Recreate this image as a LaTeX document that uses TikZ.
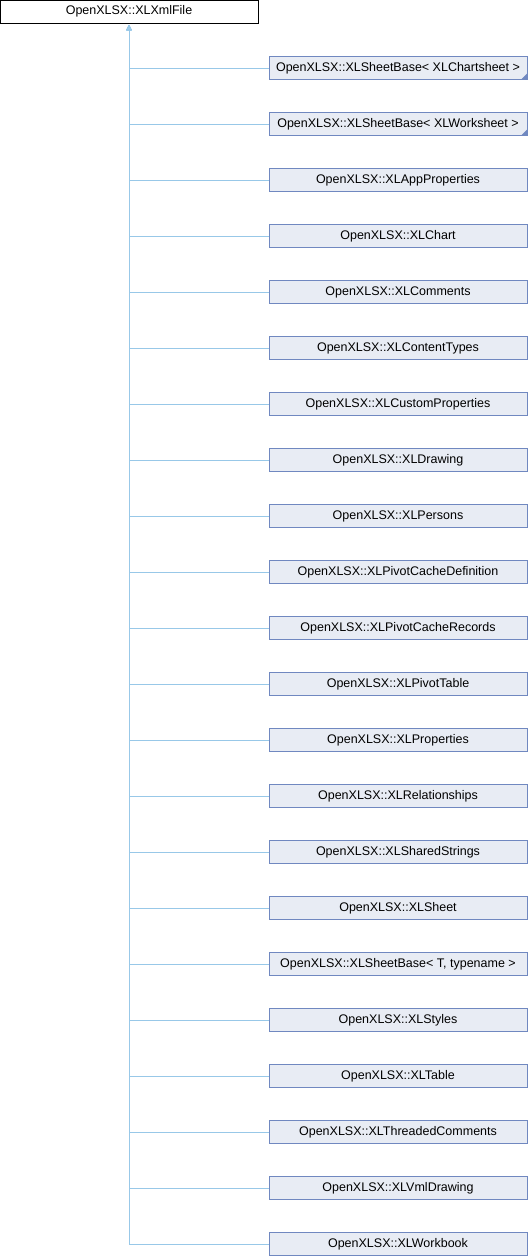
\documentclass[tikz,border=0pt]{standalone}
\usepackage{fontspec}
\setmainfont{Liberation Sans}
\usepackage{xcolor}
\usetikzlibrary{positioning,arrows.meta}

\definecolor{boxfill}{HTML}{E8ECF4}
\definecolor{boxline}{HTML}{7088C0}
\definecolor{edgeblue}{HTML}{98C8E8}

\tikzset{
  cls/.style={draw=boxline, fill=boxfill, line width=0.8pt, outer sep=0pt,
    inner sep=0pt, minimum width=258pt, minimum height=23pt,
    font=\fontsize{12.5}{15}\selectfont},
  basecls/.style={cls, draw=black, fill=white},
  inherit/.style={draw=edgeblue, line width=0.8pt, shorten <=2pt,
    {Triangle[open, length=5pt, width=5pt]}-},
  tmark/.style={fill=boxline, draw=none}
}

\begin{document}
\begin{tikzpicture}[x=1pt, y=1pt]

  \useasboundingbox (0,0) rectangle (528,-1256);

  \node[basecls] (xmlfile) at (129,-11.5) {OpenXLSX::XLXmlFile};

  \node[cls, below right=33.5pt and 11pt of xmlfile] (chartsheet) {OpenXLSX::XLSheetBase< XLChartsheet >};
  \node[cls, below=33pt of chartsheet]   (worksheet)    {OpenXLSX::XLSheetBase< XLWorksheet >};
  \node[cls, below=33pt of worksheet]    (appprops)     {OpenXLSX::XLAppProperties};
  \node[cls, below=33pt of appprops]     (chart)        {OpenXLSX::XLChart};
  \node[cls, below=33pt of chart]        (comments)     {OpenXLSX::XLComments};
  \node[cls, below=33pt of comments]     (contenttypes) {OpenXLSX::XLContentTypes};
  \node[cls, below=33pt of contenttypes] (customprops)  {OpenXLSX::XLCustomProperties};
  \node[cls, below=33pt of customprops]  (drawing)      {OpenXLSX::XLDrawing};
  \node[cls, below=33pt of drawing]      (persons)      {OpenXLSX::XLPersons};
  \node[cls, below=33pt of persons]      (pivotdef)     {OpenXLSX::XLPivotCacheDefinition};
  \node[cls, below=33pt of pivotdef]     (pivotrec)     {OpenXLSX::XLPivotCacheRecords};
  \node[cls, below=33pt of pivotrec]     (pivottable)   {OpenXLSX::XLPivotTable};
  \node[cls, below=33pt of pivottable]   (props)        {OpenXLSX::XLProperties};
  \node[cls, below=33pt of props]        (rels)         {OpenXLSX::XLRelationships};
  \node[cls, below=33pt of rels]         (sharedstr)    {OpenXLSX::XLSharedStrings};
  \node[cls, below=33pt of sharedstr]    (sheet)        {OpenXLSX::XLSheet};
  \node[cls, below=33pt of sheet]        (sheetbase)    {OpenXLSX::XLSheetBase< T, typename >};
  \node[cls, below=33pt of sheetbase]    (styles)       {OpenXLSX::XLStyles};
  \node[cls, below=33pt of styles]       (table)        {OpenXLSX::XLTable};
  \node[cls, below=33pt of table]        (threaded)     {OpenXLSX::XLThreadedComments};
  \node[cls, below=33pt of threaded]     (vmldrawing)   {OpenXLSX::XLVmlDrawing};
  \node[cls, below=33pt of vmldrawing]   (workbook)     {OpenXLSX::XLWorkbook};

  % template instance markers
  \fill[tmark] (chartsheet.south east) -- ++(-6,0) -- ++(6,6) -- cycle;
  \fill[tmark] (worksheet.south east) -- ++(-6,0) -- ++(6,6) -- cycle;

  % inheritance edges
  \draw[inherit] (xmlfile.south) |- (chartsheet.west);
  \draw[inherit] (xmlfile.south) |- (worksheet.west);
  \draw[inherit] (xmlfile.south) |- (appprops.west);
  \draw[inherit] (xmlfile.south) |- (chart.west);
  \draw[inherit] (xmlfile.south) |- (comments.west);
  \draw[inherit] (xmlfile.south) |- (contenttypes.west);
  \draw[inherit] (xmlfile.south) |- (customprops.west);
  \draw[inherit] (xmlfile.south) |- (drawing.west);
  \draw[inherit] (xmlfile.south) |- (persons.west);
  \draw[inherit] (xmlfile.south) |- (pivotdef.west);
  \draw[inherit] (xmlfile.south) |- (pivotrec.west);
  \draw[inherit] (xmlfile.south) |- (pivottable.west);
  \draw[inherit] (xmlfile.south) |- (props.west);
  \draw[inherit] (xmlfile.south) |- (rels.west);
  \draw[inherit] (xmlfile.south) |- (sharedstr.west);
  \draw[inherit] (xmlfile.south) |- (sheet.west);
  \draw[inherit] (xmlfile.south) |- (sheetbase.west);
  \draw[inherit] (xmlfile.south) |- (styles.west);
  \draw[inherit] (xmlfile.south) |- (table.west);
  \draw[inherit] (xmlfile.south) |- (threaded.west);
  \draw[inherit] (xmlfile.south) |- (vmldrawing.west);
  \draw[inherit] (xmlfile.south) |- (workbook.west);

\end{tikzpicture}
\end{document}
